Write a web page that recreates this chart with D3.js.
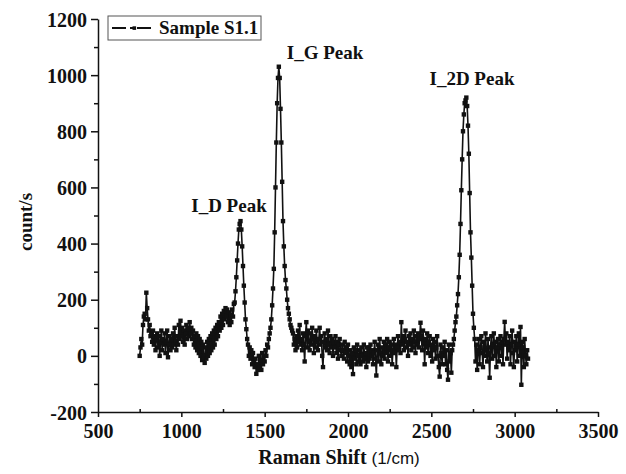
<!DOCTYPE html>
<html>
<head>
<meta charset="utf-8">
<script src="https://cdn.jsdelivr.net/npm/d3@7"></script>
<style>
  body { margin: 0; background: #fff; }
  svg text { font-family: "Liberation Serif", "Times New Roman", serif; font-weight: bold; fill: #111; }
</style>
</head>
<body>
<svg id="chart"></svg>
<script>
// spectrum sampled every 5 1/cm starting at 750
var shiftStart = 750
  , shiftStep = 5;

var counts = [
  0, 30, 60, 40, 110, 140, 150, 130, 225, 170,          // 750
  130, 90, 110, 70, 80, 50, 90, 40, 70, 20,             // 800
  60, 80, 30, 70, 0, 50, 90, 20, 60, 40,                // 850
  80, 10, 50, 90, -5, 40, 70, 20, 60, 30,               // 900
  80, 40, 100, 50, 20, 70, 40, 110, 60, 125,            // 950
  70, 100, 50, 90, 40, 80, 110, 60, 100, 70,            // 1000
  120, 80, 100, 60, 90, 40, 70, 30, 80, 20,             // 1050
  70, 10, 60, 0, 50, -15, 40, -5, -25, 30,              // 1100
  -10, 50, 0, 60, 10, 70, 20, 80, 30, 90,               // 1150
  40, 100, 60, 110, 70, 120, 90, 140, 100, 150,         // 1200
  110, 160, 130, 170, 140, 165, 120, 155, 110, 145,     // 1250
  120, 165, 140, 185, 190, 230, 280, 340, 400, 450,     // 1300
  470, 480, 450, 390, 320, 250, 190, 130, 95, 60,       // 1350
  40, 0, 30, -10, 20, -30, 10, -20, -40, -10,           // 1400
  -64, -30, -50, 0, -40, -15, -50, 10, -30, 0,          // 1450
  -20, 20, 0, 40, 30, 60, 80, 100, 130, 180,            // 1500
  240, 310, 440, 600, 760, 900, 990, 1030, 990, 880,    // 1550
  760, 620, 480, 390, 320, 270, 240, 200, 170, 150,     // 1600
  130, 110, 100, 90, 80, 40, 60, 20, 70, 30,            // 1650
  90, 50, 110, 40, 60, 20, 80, 40, -20, 70,             // 1700
  120, 30, 90, 50, 20, 80, 40, 100, 60, 10,             // 1750
  70, 30, 90, 50, 20, 60, 100, 40, 70, 0,               // 1800
  -40, 50, 80, 30, 60, 20, 90, 40, 10, 70,              // 1850
  30, 60, 0, 50, 30, 70, 10, 50, -10, 40,               // 1900
  60, 20, 0, 40, 20, -10, 50, 10, 30, -20,              // 1950
  40, 0, -30, 20, -40, 10, -65, 30, -10, 20,            // 2000
  -30, 40, 0, -20, 20, -30, 30, 0, -20, 40,             // 2050
  -10, 10, -40, 30, -20, 30, -10, 40, 0, 20,            // 2100
  -30, 10, 50, -10, -70, 20, 40, -20, 60, 10,           // 2150
  -30, 30, 0, 50, -10, 40, 10, 60, -20, 30,             // 2200
  50, 0, 40, -30, 20, 60, 10, 40, -40, 30,              // 2250
  70, 20, 50, 10, 120, 40, 70, 20, 60, 90,              // 2300
  30, 50, 0, 70, 40, 80, 20, 60, 30, 90,                // 2350
  50, 10, 70, 40, 80, 30, 60, 118, 70, 20,              // 2400
  90, 50, -30, 60, 30, 80, 10, 50, 70, 0,               // 2450
  40, -20, 60, 20, 50, -10, 30, 70, 0, -40,             // 2500
  -74, 40, 10, -30, 30, 0, 50, -30, 20, -50,            // 2550
  -85, 40, -20, 10, -60, 20, 40, 60, 90, 120,           // 2600
  140, 180, 220, 280, 360, 470, 590, 700, 800, 860,     // 2650
  900, 910, 920, 890, 820, 720, 580, 440, 350, 250,     // 2700
  150, 100, 60, -20, 40, -50, 20, 60, -30, 30,          // 2750
  70, 10, -40, 50, 0, 80, 20, -20, 60, 10,              // 2800
  -78, 30, 70, -10, 40, 80, 0, 50, -40, 30,             // 2850
  60, -20, 40, 70, 0, 50, -30, 60, 121, 40,             // 2900
  80, -10, 50, 20, 70, -30, 40, 90, 10, -40,            // 2950
  50, 20, 70, -20, 40, 80, 0, 103, -103, 50,            // 3000
  30, -40, 60, 0, -30, 20, -10                          // 3050
];

var xTicks = [500, 1000, 1500, 2000, 2500, 3000, 3500]
  , yTicks = [-200, 0, 200, 400, 600, 800, 1000, 1200]
  , seriesName = "Sample S1.1";

// peak annotations (label anchor in data units)
var peakNames = ["I_D Peak", "I_G Peak", "I_2D Peak"]
  , peakLabelShift = [1286, 1862, 2744]
  , peakLabelCount = [513, 1058, 965];

var width = 626
  , height = 474
  , margin = {left: 98, right: 28, top: 19, bottom: 62};

var svg = d3.select("#chart")
  .attr("width", width)
  .attr("height", height);

var xScale = d3.scaleLinear()
  .domain([500, 3500])
  .range([margin.left, width - margin.right]);

var yScale = d3.scaleLinear()
  .domain([-200, 1200])
  .range([height - margin.bottom, margin.top]);

var points = counts.map(function(c, i){
  return {shift: shiftStart + i*shiftStep, count: c};
});

// minor ticks
var xMinor = d3.range(750, 3500, 500)
  , yMinor = d3.range(-100, 1200, 200);

svg.append("g")
  .attr("transform", "translate(0," + yScale(-200) + ")")
  .call(d3.axisTop(xScale).tickValues(xMinor).tickSize(3).tickFormat(""))
  .call(g => g.select(".domain").remove());

svg.append("g")
  .attr("transform", "translate(" + xScale(500) + ",0)")
  .call(d3.axisLeft(yScale).tickValues(yMinor).tickSize(4).tickFormat(""))
  .call(g => g.select(".domain").remove());

// plain hyphen for negatives, like the original
var plain = d => String(d);

var xAxis = svg.append("g")
  .attr("transform", "translate(0," + yScale(-200) + ")")
  .call(d3.axisBottom(xScale).tickValues(xTicks).tickFormat(plain)
    .tickSize(5).tickSizeOuter(0).tickPadding(7));

var yAxis = svg.append("g")
  .attr("transform", "translate(" + xScale(500) + ",0)")
  .call(d3.axisLeft(yScale).tickValues(yTicks).tickFormat(plain)
    .tickSize(7).tickSizeOuter(0).tickPadding(4));

svg.selectAll(".domain, .tick line")
  .attr("stroke", "#111")
  .attr("stroke-width", 1.5);

svg.selectAll(".tick text")
  .style("font-family", "'Liberation Serif', serif")
  .style("font-weight", "bold")
  .style("font-size", "20px")
  .style("fill", "#111");

yAxis.selectAll("text").attr("dy", "0.35em");

// axis titles
var xTitle = svg.append("text")
  .attr("x", 339)
  .attr("y", 464)
  .attr("text-anchor", "middle")
  .style("font-size", "20px");
xTitle.append("tspan").text("Raman Shift ");
xTitle.append("tspan")
  .style("font-family", "'Liberation Sans', Arial, sans-serif")
  .style("font-weight", "normal")
  .style("font-size", "17px")
  .text(" (1/cm)");

svg.append("text")
  .attr("transform", "translate(32,222) rotate(-90)")
  .attr("text-anchor", "middle")
  .style("font-size", "19px")
  .text("count/s");

// spectrum line + square markers
var line = d3.line()
  .x(d => xScale(d.shift))
  .y(d => yScale(d.count));

var plot = svg.append("g").attr("class", "spectrum");

plot.append("path")
  .datum(points)
  .attr("d", line)
  .attr("fill", "none")
  .attr("stroke", "#111")
  .attr("stroke-width", 1.6);

plot.selectAll("rect")
  .data(points)
 .enter().append("rect")
  .attr("x", d => xScale(d.shift) - 2.2)
  .attr("y", d => yScale(d.count) - 2.2)
  .attr("width", 4.4)
  .attr("height", 4.4)
  .attr("fill", "#111");

// peak labels
svg.selectAll(".peak-label")
  .data(peakNames)
 .enter().append("text")
  .attr("class", "peak-label")
  .attr("x", (d, i) => xScale(peakLabelShift[i]))
  .attr("y", (d, i) => yScale(peakLabelCount[i]))
  .attr("text-anchor", "middle")
  .style("font-size", "19px")
  .text(d => d);

// legend
var legend = svg.append("g").attr("transform", "translate(108,16)");
legend.append("rect")
  .attr("width", 153)
  .attr("height", 24)
  .attr("fill", "#fff")
  .attr("stroke", "#555")
  .attr("stroke-width", 1);
legend.append("line")
  .attr("x1", 4).attr("x2", 49)
  .attr("y1", 12).attr("y2", 12)
  .attr("stroke", "#111")
  .attr("stroke-width", 2)
  .attr("stroke-dasharray", "14,4,3,4,14");
legend.append("rect")
  .attr("x", 24.5).attr("y", 10.3)
  .attr("width", 3.6).attr("height", 3.6)
  .attr("fill", "#111");
legend.append("text")
  .attr("x", 51)
  .attr("y", 18)
  .style("font-size", "19px")
  .text(seriesName);
</script>
</body>
</html>
